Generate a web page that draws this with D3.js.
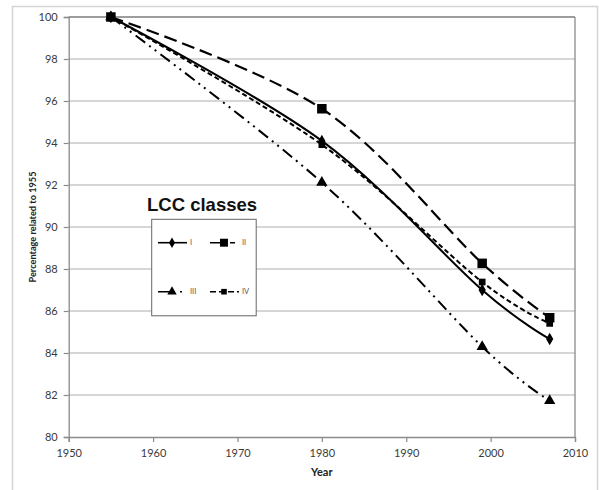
<!DOCTYPE html>
<html><head><meta charset="utf-8">
<script src="https://cdn.jsdelivr.net/npm/d3@7"></script>
<style>body{margin:0;background:#fff}svg{display:block}</style>
</head><body>
<svg id="c" width="599" height="490"></svg>
<script>
const years = [1955, 1980, 1999, 2007];
const seriesNames = ["I", "II", "III", "IV"];
const valuesI   = [100, 94.1, 87.0, 84.67];
const valuesII  = [100, 95.63, 88.27, 85.68];
const valuesIII = [100, 92.12, 84.3, 81.73];
const valuesIV  = [100, 93.92, 87.38, 85.41];
const xTicks = [1950, 1960, 1970, 1980, 1990, 2000, 2010];
const yTicks = [80, 82, 84, 86, 88, 90, 92, 94, 96, 98, 100];

const svg = d3.select("#c");
const m = {l: 68.7, r: 575, t: 17, b: 437};
const x = d3.scaleLinear().domain([1950, 2010]).range([m.l, m.r]);
const y = d3.scaleLinear().domain([80, 100]).range([m.b, m.t]);
const font = "Lato, 'Open Sans', sans-serif";

// outer chart border
svg.append("rect").attr("x", 12.5).attr("y", 6.5).attr("width", 585).attr("height", 520)
  .attr("fill", "none").attr("stroke", "#d4d4d4").attr("stroke-width", 1.5);

// gridlines
svg.append("g").selectAll("line").data(yTicks.slice(1)).join("line")
  .attr("x1", m.l).attr("x2", m.r).attr("y1", d => y(d)).attr("y2", d => y(d))
  .attr("stroke", "#c8c8c8").attr("stroke-width", 1.5);

// right border
svg.append("line").attr("x1", m.r).attr("x2", m.r).attr("y1", m.t).attr("y2", m.b)
  .attr("stroke", "#8a8a8a").attr("stroke-width", 1.3);
svg.append("line").attr("x1", m.l).attr("x2", m.r).attr("y1", m.t).attr("y2", m.t)
  .attr("stroke", "#8a8a8a").attr("stroke-width", 1.3);

// axes
const yAxis = d3.axisLeft(y).tickValues(yTicks).tickSize(5).tickPadding(6).tickFormat(d3.format("d"));
const xAxis = d3.axisBottom(x).tickValues(xTicks).tickSize(5).tickPadding(7).tickFormat(d3.format("d"));
const gy = svg.append("g").attr("transform", `translate(${m.l},0)`).call(yAxis);
const gx = svg.append("g").attr("transform", `translate(0,${m.b})`).call(xAxis);
[gx, gy].forEach(g => {
  g.select(".domain").attr("stroke", "#8a8a8a").attr("stroke-width", 1.3);
  g.selectAll(".tick line").attr("stroke", "#8a8a8a").attr("stroke-width", 1.2);
  g.selectAll(".tick text").attr("font-family", font).attr("font-size", 11).attr("fill", "#3a3a3a");
});
gy.selectAll(".tick text").attr("dy", "0.35em");

// axis titles
svg.append("text").attr("x", (m.l + m.r) / 2).attr("y", 476).attr("text-anchor", "middle")
  .attr("font-family", font).attr("font-weight", "bold").attr("font-size", 11).attr("fill", "#222").text("Year");
svg.append("text").attr("transform", `translate(36,${(m.t + m.b) / 2}) rotate(-90)`).attr("text-anchor", "middle")
  .attr("font-family", font).attr("font-weight", "bold").attr("font-size", 9.2).attr("fill", "#222")
  .text("Percentage related to 1955");

const series = [
  {name: "I", vals: valuesI, dash: null, w: 2, sym: d3.symbolDiamond, size: 45},
  {name: "II", vals: valuesII, dash: "13,6", w: 2.2, sym: d3.symbolSquare, size: 90},
  {name: "III", vals: valuesIII, dash: "12,5,2,5,2,5", w: 2, sym: d3.symbolTriangle, size: 55},
  {name: "IV", vals: valuesIV, dash: "5,3", w: 2, sym: d3.symbolSquare, size: 45}
];

const line = d3.line().x(d => x(d[0])).y(d => y(d[1])).curve(d3.curveCardinal.tension(0));
const gs = svg.append("g");
series.forEach(s => {
  const pts = years.map((yr, i) => [yr, s.vals[i]]);
  gs.append("path").datum(pts).attr("d", line).attr("fill", "none").attr("stroke", "#000")
    .attr("stroke-width", s.w).attr("stroke-dasharray", s.dash);
});
// draw markers with later series first so large square II stays visible
[series[2], series[0], series[3], series[1]].forEach(s => {
  const pts = years.map((yr, i) => [yr, s.vals[i]]);
  gs.append("g").selectAll("path").data(pts).join("path")
    .attr("transform", d => `translate(${x(d[0])},${y(d[1])})`)
    .attr("d", d3.symbol().type(s.sym).size(s.size)).attr("fill", "#000");
});

// legend
svg.append("text").attr("x", 147).attr("y", 211).attr("font-family", "'Liberation Sans', Arial, sans-serif")
  .attr("font-weight", "bold").attr("font-size", 18.5).attr("fill", "#111").text("LCC classes");
svg.append("rect").attr("x", 151.7).attr("y", 219.3).attr("width", 104.5).attr("height", 96.5)
  .attr("fill", "#fff").attr("stroke", "#666").attr("stroke-width", 1);
const legPos = [[158, 242.7], [210, 242.7], [158, 291.7], [210, 291.7]];
const legDash = [null, "16,4,5", "17,5,2", "6,3"];
series.forEach((s, i) => {
  const [lx, ly] = legPos[i];
  svg.append("line").attr("x1", lx).attr("x2", lx + 29).attr("y1", ly).attr("y2", ly)
    .attr("stroke", "#000").attr("stroke-width", 1.6).attr("stroke-dasharray", legDash[i]);
  svg.append("path").attr("transform", `translate(${lx + 14},${ly})`)
    .attr("d", d3.symbol().type(s.sym).size(s.size * 0.7)).attr("fill", "#000");
  svg.append("text").attr("x", lx + 32).attr("y", ly).attr("dy", "0.35em")
    .attr("font-family", font).attr("font-size", 7.5).attr("fill", "#555").text(s.name);
});
</script>
</body></html>
